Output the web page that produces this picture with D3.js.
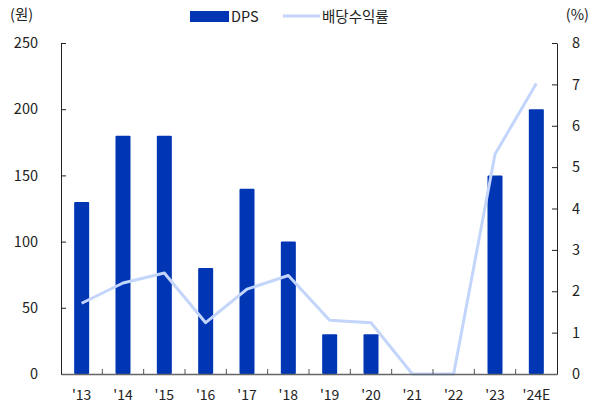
<!DOCTYPE html>
<html>
<head>
<meta charset="utf-8">
<script src="https://cdn.jsdelivr.net/npm/d3@7"></script>
<style>
  body { margin: 0; background: #fff; }
  text { font-family: "Noto Sans CJK KR", "Noto Sans", sans-serif; fill: #222; }
</style>
</head>
<body>
<script>
var width = 592
var height = 412

var years = ["'13", "'14", "'15", "'16", "'17", "'18", "'19", "'20", "'21", "'22", "'23", "'24E"]
var dps = [130, 180, 180, 80, 140, 100, 30, 30, 0, 0, 150, 200]
var yieldPct = [1.71, 2.2, 2.44, 1.24, 2.05, 2.38, 1.3, 1.24, 0, 0, 5.31, 7.02]
var leftTicks = [0, 50, 100, 150, 200, 250]
var rightTicks = [0, 1, 2, 3, 4, 5, 6, 7, 8]

var barColor = "#0036b3"
var lineColor = "#c3d5fb"

var svg = d3.select("body").append("svg")
  .attr("width", width)
  .attr("height", height)

var x = d3.scaleBand().domain(years).range([61, 557])
var yL = d3.scaleLinear().domain([0, 250]).range([374, 43])
var yR = d3.scaleLinear().domain([0, 8]).range([374, 43])

// bars
svg.append("g").selectAll("rect")
  .data(dps)
  .enter()
  .append("rect")
  .attr("x", (d, i) => x(years[i]) + x.bandwidth() / 2 - 7.5)
  .attr("width", 15)
  .attr("y", d => yL(d))
  .attr("height", d => yL(0) - yL(d))
  .attr("rx", 1)
  .attr("fill", barColor)

// yield line
var line = d3.line()
  .x((d, i) => x(years[i]) + x.bandwidth() / 2)
  .y(d => yR(d))
svg.append("path")
  .datum(yieldPct)
  .attr("d", line)
  .attr("fill", "none")
  .attr("stroke", lineColor)
  .attr("stroke-width", 3)
  .attr("stroke-linejoin", "round")

// left axis
var gl = svg.append("g").attr("transform", "translate(61,0)")
  .call(d3.axisLeft(yL).tickValues(leftTicks).tickSizeInner(-5).tickSizeOuter(0).tickPadding(23))
gl.select(".domain").attr("stroke", "#222")
gl.selectAll(".tick line").attr("stroke", "#222")
gl.selectAll("text").style("font-size", "14.5px").attr("fill", "#222")

// right axis
var gr = svg.append("g").attr("transform", "translate(557,0)")
  .call(d3.axisRight(yR).tickValues(rightTicks).tickSizeInner(-5).tickSizeOuter(0).tickPadding(15))
gr.select(".domain").attr("stroke", "#222")
gr.selectAll(".tick line").attr("stroke", "#222")
gr.selectAll("text").style("font-size", "14.5px").attr("fill", "#222")

// bottom axis
var gb = svg.append("g").attr("transform", "translate(0,374)")
  .call(d3.axisBottom(x).tickSize(0).tickPadding(16))
gb.select(".domain").attr("stroke", "#666").attr("stroke-width", 1.5)
gb.selectAll("text").style("font-size", "14px").attr("fill", "#222")
// boundary ticks between categories
svg.append("g").selectAll("line")
  .data(years.slice(1))
  .enter()
  .append("line")
  .attr("x1", d => x(d))
  .attr("x2", d => x(d))
  .attr("y1", 374)
  .attr("y2", 369)
  .attr("stroke", "#555")

// unit labels
svg.append("text").attr("x", 10).attr("y", 20).style("font-size", "14.5px").text("(원)")
svg.append("text").attr("x", 589).attr("y", 20).attr("text-anchor", "end").style("font-size", "14.5px").text("(%)")

// legend
svg.append("rect").attr("x", 190).attr("y", 11).attr("width", 39).attr("height", 11).attr("fill", barColor)
svg.append("text").attr("x", 231).attr("y", 22).style("font-size", "14.5px").text("DPS")
svg.append("line").attr("x1", 283).attr("x2", 320).attr("y1", 16).attr("y2", 16)
  .attr("stroke", lineColor).attr("stroke-width", 3)
svg.append("text").attr("x", 322).attr("y", 22).style("font-size", "14.5px").text("배당수익률")
</script>
</body>
</html>
